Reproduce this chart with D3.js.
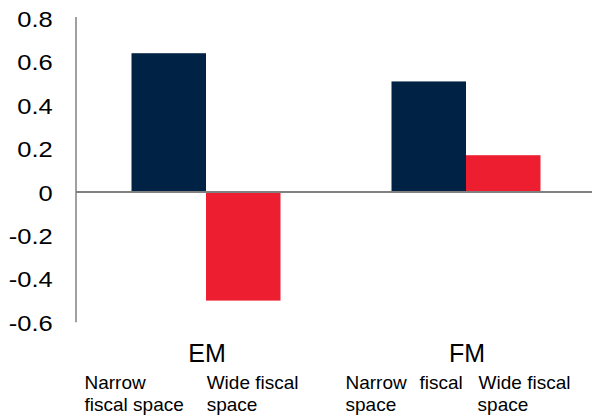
<!DOCTYPE html>
<html><head><meta charset="utf-8">
<script src="https://cdn.jsdelivr.net/npm/d3@7"></script>
<style>
html,body{margin:0;padding:0;background:#fff;}
text{font-family:"Liberation Sans",Arial,sans-serif;fill:#000;}
</style></head>
<body><svg id="c" width="592" height="420"></svg>
<script>
const groups = ["EM", "FM"];
const seriesNames = ["Narrow fiscal space", "Wide fiscal space"];
const narrowValues = [0.64, 0.51];
const wideValues = [-0.50, 0.17];
const tickValues = [0.8, 0.6, 0.4, 0.2, 0, -0.2, -0.4, -0.6];
const tickLabels = ["0.8", "0.6", "0.4", "0.2", "0", "-0.2", "-0.4", "-0.6"];
const colors = ["#002244", "#EC1E2F"];

const svg = d3.select("#c");
const x0 = d3.scaleBand().domain(groups).range([76, 596]).paddingInner(0).paddingOuter(0);
const x1 = d3.scaleBand().domain(seriesNames).range([0, x0.bandwidth()]).paddingInner(0).paddingOuter(0.745);
const y = d3.scaleLinear().domain([-0.6, 0.8]).range([322.3, 18.5]);

const data = groups.map((g, i) => ({group: g, vals: [narrowValues[i], wideValues[i]]}));

// bars
const gg = svg.selectAll("g.grp").data(data).join("g").attr("class","grp")
  .attr("transform", d => `translate(${x0(d.group)},0)`);
gg.selectAll("rect").data(d => d.vals.map((v, j) => ({s: seriesNames[j], v, j}))).join("rect")
  .attr("x", d => x1(d.s)).attr("width", x1.bandwidth())
  .attr("y", d => y(Math.max(0, d.v))).attr("height", d => Math.abs(y(d.v) - y(0)))
  .attr("fill", d => colors[d.j]);

// y axis
const ax = svg.append("g").attr("transform", "translate(76,0)")
  .call(d3.axisLeft(y).tickValues(tickValues).tickSizeInner(0).tickSizeOuter(0)
    .tickFormat((d, i) => tickLabels[i]));
ax.select(".domain").attr("stroke", "#808080").attr("stroke-width", 1.5)
  .attr("d", `M0,${y(0.8)-1.5}V${y(-0.6)}`);
ax.selectAll(".tick line").remove();
ax.selectAll(".tick text").attr("font-size", 22).attr("fill", "#000")
  .attr("font-family", "Liberation Sans, Arial, sans-serif")
  .attr("transform", "scale(1.16,1)").attr("x", -23.3 / 1.16).attr("dy", "0.36em");

// zero line
svg.append("line").attr("x1", 76).attr("x2", 592).attr("y1", y(0)).attr("y2", y(0))
  .attr("stroke", "#808080").attr("stroke-width", 2);

// group labels
svg.selectAll("text.gl").data(groups).join("text").attr("class", "gl")
  .attr("x", d => x0(d) + x0.bandwidth() / 2 + 1).attr("y", 362)
  .attr("text-anchor", "middle").attr("font-size", 25).text(d => d);

// sub labels
const subLayout = [
  [{t: "Narrow", dx: -47, line: 0}, {t: "fiscal space", dx: -47, line: 0.999}],
  [{t: "Wide fiscal", dx: 0.7, line: 0}, {t: "space", dx: 0.7, line: 1}]
];
const subLayoutFM = [
  [{t: "Narrow", dx: -46, line: 0}, {t: "fiscal", dx: 28, line: 0}, {t: "space", dx: -46, line: 1}],
  [{t: "Wide fiscal", dx: 12.6, line: 0}, {t: "space", dx: 11.6, line: 1}]
];
groups.forEach((g, gi) => {
  const lay = gi === 0 ? subLayout : subLayoutFM;
  lay.forEach((items, si) => {
    const bx = x0(g) + x1(seriesNames[si]);
    items.forEach(it => {
      svg.append("text").attr("x", bx + it.dx).attr("y", 389 + Math.round(it.line) * 21.8)
        .attr("font-size", 19).text(it.t);
    });
  });
});
</script></body></html>
